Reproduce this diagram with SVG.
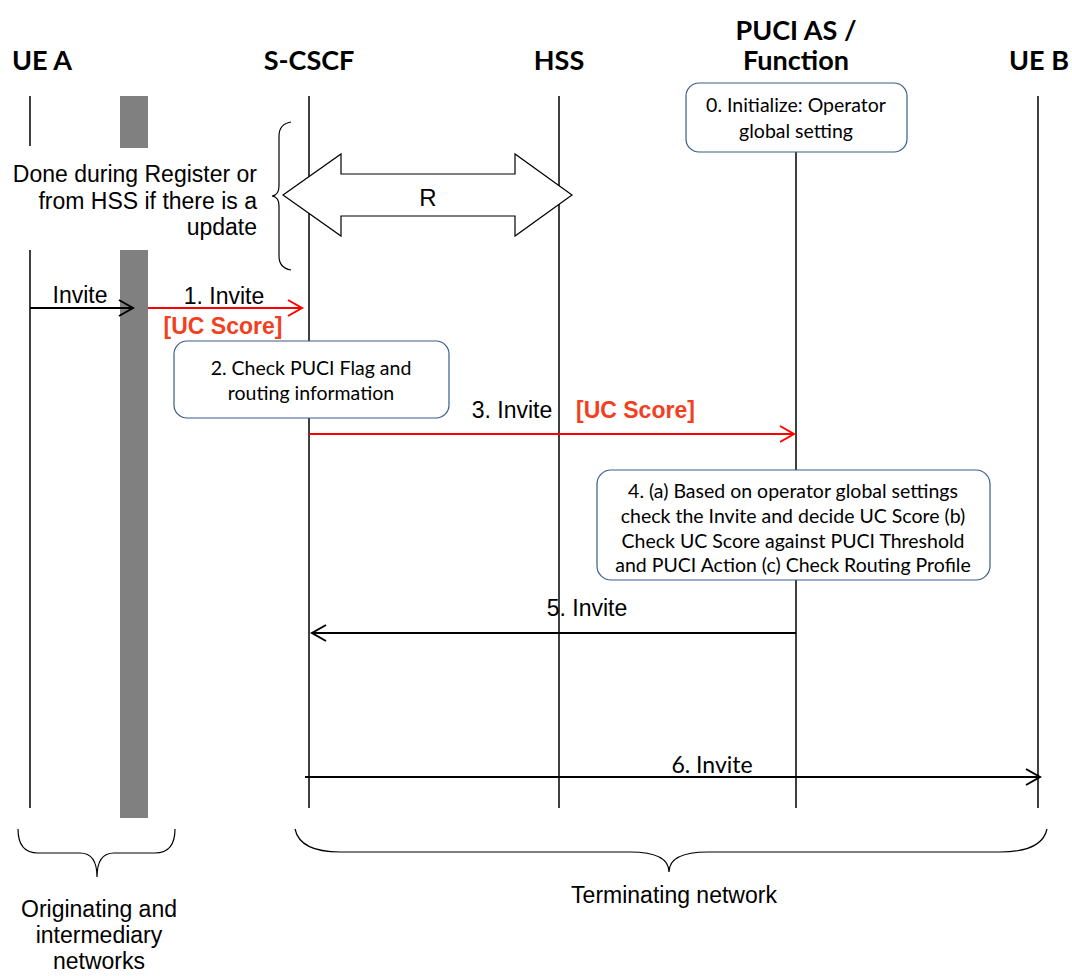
<svg xmlns="http://www.w3.org/2000/svg" width="1072" height="976" viewBox="0 0 1072 976">
  <style>
    .hdr { font-family: Lato, "Open Sans", sans-serif; font-weight: bold; font-size: 27px; fill: #000; text-anchor: middle; }
    .life { stroke: #000; stroke-width: 1.5; fill: none; }
    .bar { fill: #808080; }
    .box { fill: #fff; stroke: #385D8A; stroke-width: 1.2; }
    .btxt { font-family: Lato, "Open Sans", sans-serif; font-size: 19.5px; fill: #000; text-anchor: middle; }
    .lbl { font-family: "Liberation Sans", Arial, sans-serif; font-size: 23px; fill: #000; text-anchor: middle; }
    .note { font-family: "Liberation Sans", Arial, sans-serif; font-size: 23px; fill: #000; text-anchor: end; }
    .uc { font-family: "Liberation Sans", Arial, sans-serif; font-size: 23px; font-weight: bold; fill: #F2401E; }
    .msg { stroke: #000; stroke-width: 2; fill: none; }
    .red { stroke: #FF0000; stroke-width: 2; fill: none; }
    .brace { stroke: #000; stroke-width: 1.2; fill: none; }
  </style>
  <defs>
    <marker id="ahBlack" markerUnits="userSpaceOnUse" markerWidth="20" markerHeight="20" refX="16" refY="10" orient="auto">
      <path d="M2,2 L16,10 L2,18" fill="none" stroke="#000" stroke-width="2"/>
    </marker>
    <marker id="ahRed" markerUnits="userSpaceOnUse" markerWidth="20" markerHeight="20" refX="16" refY="10" orient="auto">
      <path d="M2,2 L16,10 L2,18" fill="none" stroke="#FF0000" stroke-width="2"/>
    </marker>
  </defs>
  <rect width="1072" height="976" fill="#fff"/>

  <!-- Lifelines -->
  <g id="ue-a">
    <text class="hdr" x="42" y="70">UE A</text>
    <line class="life" x1="30" y1="96" x2="30" y2="146"/>
    <line class="life" x1="30" y1="250" x2="30" y2="808"/>
    <rect class="bar" x="120" y="96" width="28" height="52"/>
    <rect class="bar" x="120" y="250" width="28" height="568"/>
  </g>
  <g id="s-cscf">
    <text class="hdr" x="309" y="70">S-CSCF</text>
    <line class="life" x1="309" y1="96" x2="309" y2="808"/>
  </g>
  <g id="hss">
    <text class="hdr" x="559" y="70">HSS</text>
    <line class="life" x1="559" y1="96" x2="559" y2="808"/>
  </g>
  <g id="puci">
    <text class="hdr" x="796" y="40">PUCI AS /</text>
    <text class="hdr" x="796" y="70">Function</text>
    <line class="life" x1="796" y1="152" x2="796" y2="808"/>
  </g>
  <g id="ue-b">
    <text class="hdr" x="1039" y="70">UE B</text>
    <line class="life" x1="1038" y1="96" x2="1038" y2="808"/>
  </g>

  <!-- Notes -->
  <g id="step0">
    <rect class="box" x="686" y="83" width="221" height="69" rx="13"/>
    <text class="btxt" x="796" y="112">0. Initialize: Operator</text>
    <text class="btxt" x="796" y="138">global setting</text>
  </g>
  <g id="register-note">
    <text class="note" x="257" y="182">Done during Register or</text>
    <text class="note" x="257" y="209">from HSS if there is a</text>
    <text class="note" x="257" y="235">update</text>
    <path class="brace" d="M291,122 Q279,124 279,136 L279,186 Q279,195 272,196 Q279,197 279,206 L279,256 Q279,268 291,270"/>
  </g>
  <g id="r-interface">
    <path d="M283,195 L341,154 L341,174 L515,174 L515,154 L572,195 L515,236 L515,216 L341,216 L341,236 Z" fill="#fff" stroke="#000" stroke-width="1.2"/>
    <text class="lbl" x="428" y="206" style="font-size:24px">R</text>
  </g>
  <g id="step2">
    <rect class="box" x="174" y="341" width="275" height="77" rx="13"/>
    <text class="btxt" x="311" y="375">2. Check PUCI Flag and</text>
    <text class="btxt" x="311" y="400">routing information</text>
  </g>
  <g id="step4">
    <rect class="box" x="597" y="470" width="393" height="110" rx="14"/>
    <text class="btxt" x="793" y="498">4. (a) Based on operator global settings</text>
    <text class="btxt" x="793" y="523">check the Invite and decide UC Score (b)</text>
    <text class="btxt" x="793" y="548">Check UC Score against PUCI Threshold</text>
    <text class="btxt" x="793" y="572">and PUCI Action (c) Check Routing Profile</text>
  </g>

  <!-- Messages -->
  <g id="connectors">
    <line class="msg" x1="30" y1="308" x2="133" y2="308" marker-end="url(#ahBlack)"/>
    <line class="red" x1="148" y1="308" x2="302" y2="308" marker-end="url(#ahRed)"/>
    <line class="red" x1="309" y1="434" x2="794" y2="434" marker-end="url(#ahRed)"/>
    <line class="msg" x1="796" y1="633" x2="312" y2="633" marker-end="url(#ahBlack)"/>
    <line class="msg" x1="305" y1="777" x2="1040" y2="777" marker-end="url(#ahBlack)"/>
  </g>
  <g id="message-labels">
    <text class="lbl" x="80" y="303">Invite</text>
    <text class="lbl" x="224" y="304">1. Invite</text>
    <text class="uc" x="223" y="334" text-anchor="middle">[UC Score]</text>
    <text class="lbl" x="512" y="418">3. Invite</text>
    <text class="uc" x="576" y="418">[UC Score]</text>
    <text class="lbl" x="587" y="616">5. Invite</text>
    <text class="btxt" x="712" y="773" style="font-size:23px">6. Invite</text>
  </g>

  <!-- Network braces -->
  <g id="originating">
    <path class="brace" d="M18,829 Q18,853 38,853 L80,853 Q97,853 97,877 Q97,853 114,853 L155,853 Q175,853 175,829"/>
    <text class="lbl" x="99" y="917">Originating and</text>
    <text class="lbl" x="99" y="943">intermediary</text>
    <text class="lbl" x="99" y="969">networks</text>
  </g>
  <g id="terminating">
    <path class="brace" d="M295,829 Q300,852 340,852 L630,852 Q669,852 669,872 Q669,852 708,852 L1000,852 Q1042,852 1047,829"/>
    <text class="lbl" x="674" y="903">Terminating network</text>
  </g>
</svg>
